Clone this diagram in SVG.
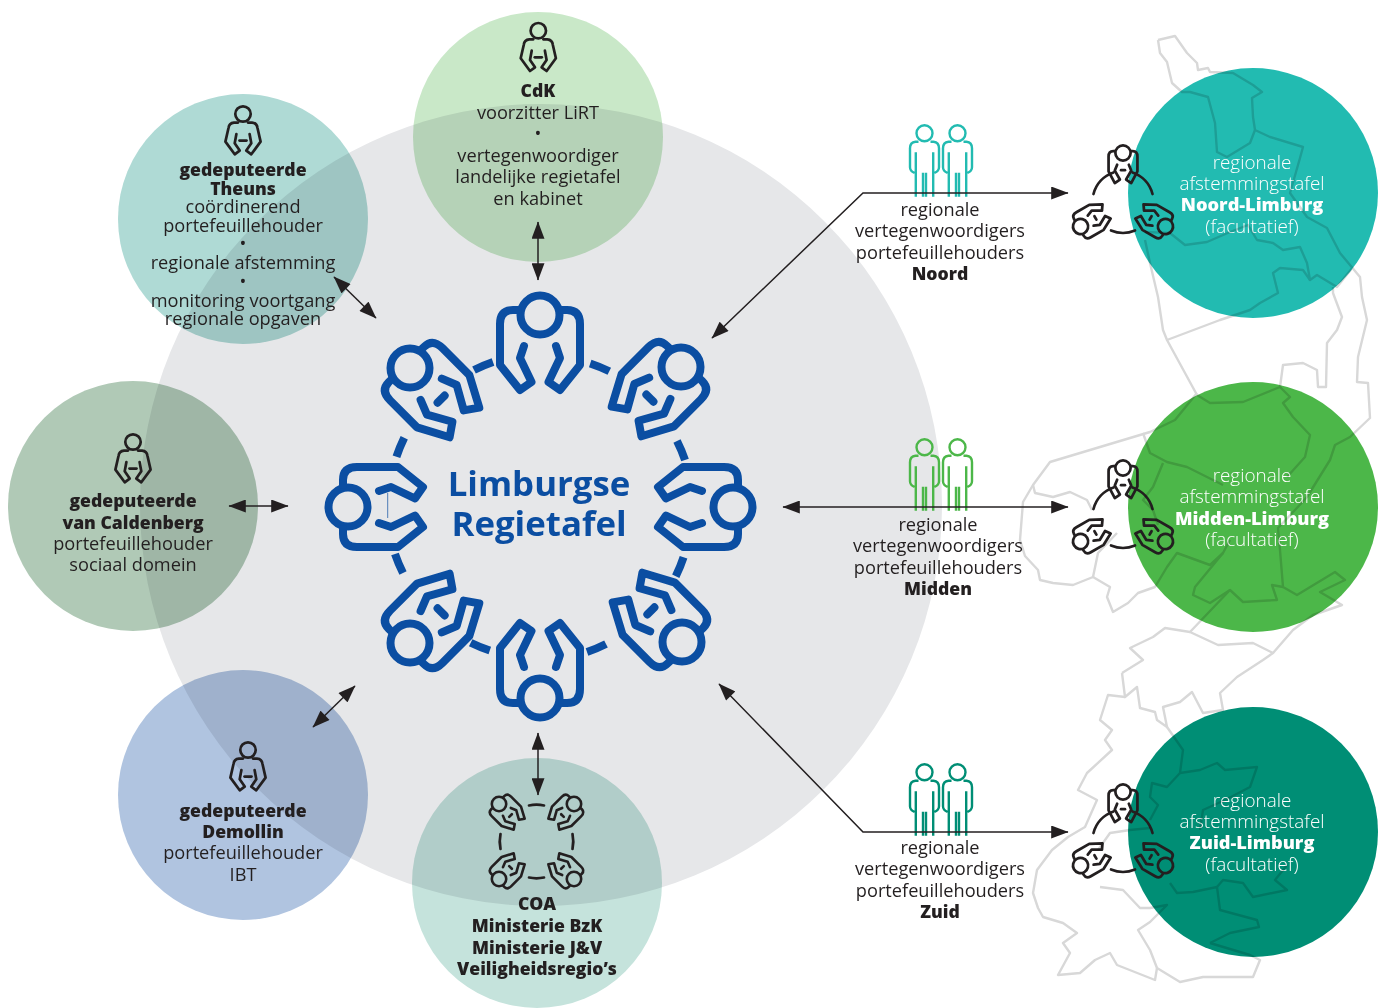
<svg xmlns="http://www.w3.org/2000/svg" width="1383" height="1008" viewBox="0 0 1383 1008">
<style>
.c{mix-blend-mode:multiply}
text{font-family:"Open Sans","Noto Sans",sans-serif;font-size:18.2px;fill:#231f20;text-anchor:middle;font-weight:400}
.b{font-weight:800;font-size:17.6px}
.w{fill:#fff;font-weight:300;font-size:18.9px}
.w.b{font-weight:800;font-size:18.2px}
.title{font-size:34.8px;font-weight:700;fill:#0b4ea2}
.blue{fill:none;stroke:#0b4ea2;stroke-width:8;stroke-linecap:round;stroke-linejoin:round}
.k{fill:none;stroke:#231f20;stroke-width:7;stroke-linecap:round;stroke-linejoin:round}
.arcb{fill:none;stroke:#0b4ea2;stroke-width:8}
.pk{fill:none;stroke:#231f20;stroke-width:2.7;stroke-linecap:round;stroke-linejoin:round}
.pa{fill:none;stroke:#231f20;stroke-width:2.7;stroke-linecap:round}
.pt{fill:none;stroke-width:2.4;stroke-linecap:butt;stroke-linejoin:round}
.con{fill:none;stroke:#231f20;stroke-width:1.5}
.map{fill:none;stroke:#d8d8d8;stroke-width:2.4;stroke-linejoin:round;mix-blend-mode:multiply}
</style>
<defs>
<marker id="ah" viewBox="0 0 16 12" refX="15.5" refY="6" markerUnits="userSpaceOnUse" markerWidth="18" markerHeight="13" orient="auto-start-reverse"><path d="M0,0 L16,6 L0,12 Z" fill="#231f20"/></marker>
<g id="fig"><circle r="19.5"/><path d="M-22,-5 H-27 Q-40,-5 -40,9 V50 L-20,75 L-8.5,67 L-20,43 L-16,31"/><path d="M22,-5 H27 Q40,-5 40,9 V50 L20,75 L8.5,67 L20,43 L16,31"/></g>
<g id="figd"><circle r="19.5"/><path d="M-22,-5 H-25 Q-37,-5 -37,9 V47 L-21,77 L-8,68 L-21,45 L-15,30"/><path d="M22,-5 H25 Q37,-5 37,9 V47 L21,77 L8,68 L21,45 L15,30"/><path d="M-5,44 H5"/></g>
<g id="person"><circle r="7.7"/><path d="M-5,8.6 H-9 Q-14,9 -14.5,14 L-17.6,27.6 L-8.3,40.3 L-3.3,36.6 L-8.3,29.3 L-6.6,20"/><path d="M5,8.6 H9 Q14,9 14.5,14 L17.6,27.6 L8.3,40.3 L3.3,36.6 L8.3,29.3 L6.6,20"/><path d="M-3.5,26.6 H3.5"/></g>
<g id="tri"><g class="k"><use href="#figd" transform="translate(0,-49) scale(.39)"/><use href="#figd" transform="rotate(120) translate(0,-49) scale(.39)"/><use href="#figd" transform="rotate(-120) translate(0,-49) scale(.39)"/></g>
<g class="pa"><path d="M9.5,-29.5 A31,31 0 0 1 29.5,-8"/><path d="M-9.5,-29.5 A31,31 0 0 0 -29.5,-8"/><path d="M-12,28.5 A31,31 0 0 0 12,28.5"/></g></g>
<g id="one"><circle r="8"/><path d="M-6,8.5 H-9 Q-14.5,9 -14.5,15 V34 Q-14.5,38 -10,39.5 M-8.7,19 V63.5 M-1.5,39.5 V63.5 M1.5,39.5 V63.5 M8.7,19 V63.5 M6,8.5 H9 Q14.5,9 14.5,15 V34 Q14.5,38 10,39.5"/></g>
<g id="two"><use href="#one" x="-16.5"/><use href="#one" x="16.5"/></g>
</defs>
<rect width="1383" height="1008" fill="#fff"/>
<circle id="ring" class="c" cx="541" cy="505" r="401" fill="#e6e7e9"/>

<g id="node-cdk"><circle class="c" cx="538" cy="137" r="125" fill="#c9e8c8"/>
<use href="#person" class="pk" transform="translate(538.3,30.7)"/>
<text class="b" x="538" y="97">CdK</text><text x="538" y="119">voorzitter LiRT</text><text x="538" y="140">•</text><text x="538" y="162">vertegenwoordiger</text><text x="538" y="183">landelijke regietafel</text><text x="538" y="205">en kabinet</text></g>

<g id="node-theuns"><circle class="c" cx="243" cy="219" r="125" fill="#afdad5"/>
<use href="#person" class="pk" transform="translate(243,114)"/>
<text class="b" x="243" y="176">gedeputeerde</text><text class="b" x="243" y="195">Theuns</text><text x="243" y="213">coördinerend</text><text x="243" y="232">portefeuillehouder</text><text x="243" y="250">•</text><text x="243" y="269">regionale afstemming</text><text x="243" y="288">•</text><text x="243" y="307">monitoring voortgang</text><text x="243" y="325">regionale opgaven</text></g>

<g id="node-caldenberg"><circle class="c" cx="133" cy="506" r="125" fill="#b0c9b6"/>
<use href="#person" class="pk" transform="translate(133,442)"/>
<text class="b" x="133" y="507">gedeputeerde</text><text class="b" x="133" y="529">van Caldenberg</text><text x="133" y="550">portefeuillehouder</text><text x="133" y="571">sociaal domein</text></g>

<g id="node-demollin"><circle class="c" cx="243" cy="795" r="125" fill="#b0c4e0"/>
<use href="#person" class="pk" transform="translate(248,750)"/>
<text class="b" x="243" y="817">gedeputeerde</text><text class="b" x="243" y="838">Demollin</text><text x="243" y="859">portefeuillehouder</text><text x="243" y="881">IBT</text></g>

<g id="node-coa"><circle class="c" cx="537" cy="883" r="125" fill="#c5e3dc"/>
<g class="k" transform="translate(536.5,841.5)">
<use href="#figd" transform="rotate(-45) translate(0,-53) scale(.37)"/><use href="#figd" transform="rotate(45) translate(0,-53) scale(.37)"/><use href="#figd" transform="rotate(135) translate(0,-53) scale(.37)"/><use href="#figd" transform="rotate(-135) translate(0,-53) scale(.37)"/></g>
<g class="pa" transform="translate(536.5,841.5)"><path d="M-7.5,-36 A37,37 0 0 1 7.5,-36"/><path d="M-7.5,36 A37,37 0 0 0 7.5,36"/><path d="M-36,-7.5 A37,37 0 0 0 -36,7.5"/><path d="M36,-7.5 A37,37 0 0 1 36,7.5"/></g>
<text class="b" x="537" y="910">COA</text><text class="b" x="537" y="932">Ministerie BzK</text><text class="b" x="537" y="954">Ministerie J&amp;V</text><text class="b" x="537" y="975">Veiligheidsregio’s</text></g>

<g id="node-regietafel">
<g class="blue">
<use href="#fig" transform="translate(540,315)"/>
<use href="#figd" transform="translate(681,367) rotate(45)"/>
<use href="#fig" transform="translate(733,507) rotate(90)"/>
<use href="#figd" transform="translate(682,642) rotate(135)"/>
<use href="#fig" transform="translate(540,698) rotate(180)"/>
<use href="#figd" transform="translate(410,643) rotate(-135)"/>
<use href="#fig" transform="translate(348,507) rotate(-90)"/>
<use href="#figd" transform="translate(410,368) rotate(-45)"/>
</g>
<path d="M387.7,493 V518" stroke="#0b4ea2" stroke-width=".7" fill="none"/>
<g class="arcb" transform="translate(540,507)">
<path d="M-66,-137 A152,152 0 0 1 -47,-145"/><path transform="rotate(45)" d="M-66,-137 A152,152 0 0 1 -47,-145"/><path transform="rotate(90)" d="M-66,-137 A152,152 0 0 1 -47,-145"/><path transform="rotate(135)" d="M-66,-137 A152,152 0 0 1 -47,-145"/><path transform="rotate(180)" d="M-66,-137 A152,152 0 0 1 -47,-145"/><path transform="rotate(225)" d="M-66,-137 A152,152 0 0 1 -47,-145"/><path transform="rotate(270)" d="M-66,-137 A152,152 0 0 1 -47,-145"/><path transform="rotate(315)" d="M-66,-137 A152,152 0 0 1 -47,-145"/>
</g>
<text class="title" x="539" y="496">Limburgse</text><text class="title" x="539" y="536">Regietafel</text></g>

<g id="node-noord"><g class="pt" stroke="#22bbb1" transform="translate(941,133.3)"><use href="#two"/></g>
<text x="940" y="216">regionale</text><text x="940" y="237">vertegenwoordigers</text><text x="940" y="259">portefeuillehouders</text><text class="b" x="940" y="280">Noord</text></g>
<g id="node-midden"><g class="pt" stroke="#4cb749" transform="translate(941,447.3)"><use href="#two"/></g>
<text x="938" y="531">regionale</text><text x="938" y="552">vertegenwoordigers</text><text x="938" y="574">portefeuillehouders</text><text class="b" x="938" y="595">Midden</text></g>
<g id="node-zuid"><g class="pt" stroke="#008e75" transform="translate(941,772.3)"><use href="#two"/></g>
<text x="940" y="854">regionale</text><text x="940" y="875">vertegenwoordigers</text><text x="940" y="897">portefeuillehouders</text><text class="b" x="940" y="918">Zuid</text></g>

<g id="node-tafel-noord"><circle cx="1253" cy="193" r="125" fill="#22bbb1"/>
<text class="w" x="1252" y="169">regionale</text><text class="w" x="1252" y="190">afstemmingstafel</text><text class="w b" x="1252" y="211">Noord-Limburg</text><text class="w" x="1252" y="233">(facultatief)</text>
<use href="#tri" transform="translate(1123,202)"/></g>
<g id="node-tafel-midden"><circle cx="1253" cy="507" r="125" fill="#4cb749"/>
<text class="w" x="1252" y="482">regionale</text><text class="w" x="1252" y="503">afstemmingstafel</text><text class="w b" x="1252" y="525">Midden-Limburg</text><text class="w" x="1252" y="546">(facultatief)</text>
<use href="#tri" transform="translate(1123,517)"/></g>
<g id="node-tafel-zuid"><circle cx="1253" cy="832" r="125" fill="#008e75"/>
<text class="w" x="1252" y="807">regionale</text><text class="w" x="1252" y="828">afstemmingstafel</text><text class="w b" x="1252" y="849">Zuid-Limburg</text><text class="w" x="1252" y="871">(facultatief)</text>
<use href="#tri" transform="translate(1123,841)"/></g>

<g id="map" class="map">
<path d="M1158,40 L1175,36 1187,53 1197,63 1198,70 1208,68 1210,72 1233,73 1253,85 1262,92 1252,98 1253,117 1255,130 1270,137 1303,147 1300,158 1290,193 1307,217 1327,228 1340,253 1360,277 1362,297 1367,320 1358,357 1357,382 1368,383 1370,418 1350,437 1335,445 1330,460 1307,497 1295,510 1278,528 1280,550 1283,587 1297,595 1335,572 1345,580 1320,592 1342,605 1313,615 1293,630 1273,653"/>
<path d="M1158,40 L1160,53 1167,62 1172,83 1182,92 1190,92 1208,97 1215,123 1217,152 1227,157 1250,143 1255,130"/>
<path d="M1145,232 L1170,233 1185,245 1207,242 1230,232 1248,225 1257,240 1273,243 1283,250 1300,247 1307,263 1310,280 1317,275 1337,287 1353,267"/>
<path d="M1333,287 L1333,293 1342,317 1337,330 1327,343 1326,387 1318,387 1317,370 1303,363 1283,365 1280,387"/>
<path d="M1145,240 L1150,263 1158,297 1163,330 1167,340 1197,395 1210,403 1243,402 1280,387 1290,397 1283,403 1293,417 1310,435 1305,457 1287,477"/>
<path d="M1310,280 L1303,270 1280,268 1273,273 1278,293 1260,303 1250,310 1220,320 1167,340"/>
<path d="M1197,393 L1175,420 1150,432 1050,462 1033,485 1023,502 1020,540 1025,556 1038,570 1040,580 1053,583 1073,585 1093,577 1110,587 1107,597 1113,612 1128,603 1138,593 1155,587 1167,567 1177,553 1210,565 1223,553 1230,540"/>
<path d="M1033,485 L1035,493 1053,497 1070,492 1087,500 1092,510"/>
<path d="M1093,577 L1098,553 1117,533"/>
<path d="M1143,433 L1150,453 1167,462 1187,467 1207,477 1223,485"/>
<path d="M1163,463 L1153,487 1143,500 1153,510 1158,525"/>
<path d="M1223,553 L1195,587 1193,595 1210,603 1230,590 1243,602 1277,600 1272,585 1283,587"/>
<path d="M1230,590 L1190,632 1165,628 1153,637 1130,648 1143,660 1122,673"/>
<path d="M1190,632 L1218,645 1253,643 1273,653 1263,660 1237,677 1220,693 1223,710 1203,713 1192,692 1180,702 1163,707 1167,727 1157,720 1155,712 1140,708 1137,687 1125,697 1122,673"/>
<path d="M1125,697 L1108,695 1100,720 1112,730 1105,740 1112,750 1087,773 1078,790 1097,800 1085,827 1068,837 1052,850 1037,870 1033,893 1038,908 1043,917 1063,923 1077,933 1063,943 1070,953 1058,975 1080,973 1095,960 1110,953 1117,965 1155,980 1157,968 1180,982 1203,977 1253,977 1260,960 1250,955 1210,943"/>
<path d="M1167,727 L1183,750 1180,773 1167,787 1152,783 1150,797 1158,805 1150,820"/>
<path d="M1180,773 L1200,770 1217,763 1225,770 1257,767 1250,787 1225,800 1203,810 1200,830"/>
<path d="M1170,883 L1177,893 1193,892 1217,887 1220,910 1257,920 1259,927 1230,933 1210,943"/>
<path d="M1217,887 L1223,880 1243,883 1253,897 1287,890 1275,880 1287,865"/>
<path d="M1100,887 L1123,890 1140,908 1150,908 1167,905 1150,922 1138,930 1150,950 1157,968"/>
<path d="M1098,850 L1110,833 1130,830 1150,828"/>
</g>

<g id="connectors" class="con">
<path marker-start="url(#ah)" marker-end="url(#ah)" d="M538,222 V280"/>
<path marker-start="url(#ah)" marker-end="url(#ah)" d="M538,733 V795"/>
<path marker-start="url(#ah)" marker-end="url(#ah)" d="M229,506 H288"/>
<path marker-start="url(#ah)" marker-end="url(#ah)" d="M313,727 L355,686"/>
<path marker-start="url(#ah)" marker-end="url(#ah)" d="M334,277 L376,318"/>
<path marker-start="url(#ah)" marker-end="url(#ah)" d="M712,338 L863,193 H1068"/>
<path marker-start="url(#ah)" marker-end="url(#ah)" d="M783,507 H1068"/>
<path marker-start="url(#ah)" marker-end="url(#ah)" d="M719,684 L863,832 H1068"/>
</g>
</svg>
